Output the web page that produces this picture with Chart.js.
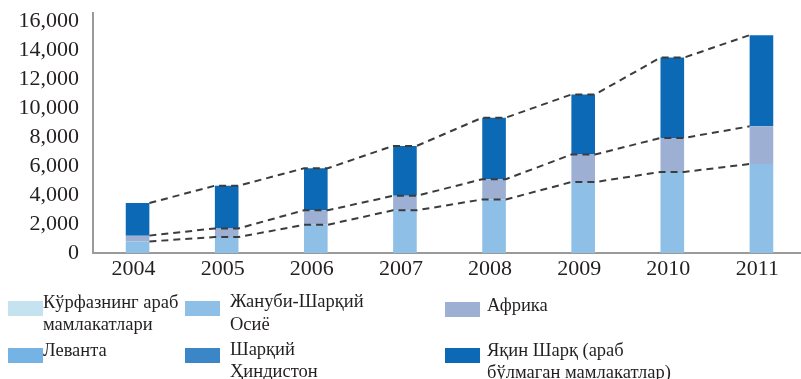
<!DOCTYPE html>
<html>
<head>
<meta charset="utf-8">
<script src="https://cdn.jsdelivr.net/npm/chart.js@4"></script>
<style>
html, body { margin: 0; padding: 0; background: #fff; overflow: hidden; }
body { width: 801px; height: 379px; position: relative; font-family: 'Liberation Serif', serif; color: #231f20; }
#wrap { position: absolute; left: 0; top: 0; width: 806px; height: 285px; }
#legend { position: absolute; left: 0; top: 0; width: 801px; height: 379px; }
.swatch { position: absolute; width: 35px; height: 15px; }
.label { position: absolute; font-size: 18.5px; line-height: 22.5px; white-space: pre; }
</style>
</head>
<body>
<div id="wrap"><canvas id="chart" width="806" height="285"></canvas></div>
<div id="legend"></div>
<script>
// Years on the x axis
const years = ['2004', '2005', '2006', '2007', '2008', '2009', '2010', '2011'];

// Series, bottom to top of each stack
const gulfArab  = [0, 0, 0, 0, 0, 0, 0, 0];
const seAsia    = [800, 1100, 1950, 2950, 3700, 4900, 5600, 6150];
const africa    = [400, 600, 1000, 1000, 1400, 1900, 2350, 2600];
const levant    = [0, 0, 0, 0, 0, 0, 0, 0];
const eastIndia = [0, 0, 0, 0, 0, 0, 0, 0];
const nearEast  = [2250, 2950, 2900, 3450, 4250, 4150, 5550, 6300];

const seriesNames = [
    'Кўрфазнинг араб\nмамлакатлари',
    'Жануби-Шарқий\nОсиё',
    'Африка',
    'Леванта',
    'Шарқий\nҲиндистон',
    'Яқин Шарқ (араб\nбўлмаган мамлакатлар)'
];
const seriesColors = ['#c5e2f1', '#8ec0e7', '#9db0d3', '#74b3e3', '#3a86c7', '#0b69b5'];

// y axis ticks; the axis line runs a little above the top one
const yTicks = [0, 2000, 4000, 6000, 8000, 10000, 12000, 14000, 16000];
const yAxisMax = 16600;

// stacks whose tops get joined by dashed series lines
const lineLevels = [1, 2, 5];

const seriesLines = {
    id: 'seriesLines',
    afterDatasetsDraw(chart) {
        const ctx = chart.ctx;
        ctx.save();
        ctx.strokeStyle = '#3c3c3c';
        ctx.lineWidth = 2;
        ctx.setLineDash([7, 5]);
        lineLevels.forEach(idx => {
            const bars = chart.getDatasetMeta(idx).data;
            ctx.beginPath();
            bars.forEach((bar, i) => {
                const half = bar.width / 2;
                if (i === 0) {
                    ctx.moveTo(bar.x + half, bar.y);
                } else {
                    ctx.lineTo(bar.x - half, bar.y);
                    if (i < bars.length - 1) ctx.lineTo(bar.x + half, bar.y);
                }
            });
            ctx.stroke();
        });
        ctx.restore();
    }
};

const values = [gulfArab, seAsia, africa, levant, eastIndia, nearEast];

const chart = new Chart(document.getElementById('chart').getContext('2d'), {
    type: 'bar',
    data: {
        labels: years,
        datasets: values.map((data, i) => ({
            label: seriesNames[i],
            data: data,
            backgroundColor: seriesColors[i],
            borderWidth: 0,
            categoryPercentage: 1,
            barPercentage: 0.265
        }))
    },
    options: {
        responsive: false,
        animation: false,
        layout: { padding: { top: 12.7, left: 0, right: 0, bottom: 0 } },
        plugins: {
            legend: { display: false },
            tooltip: { enabled: false }
        },
        scales: {
            x: {
                stacked: true,
                offset: true,
                grid: { display: false, drawTicks: false },
                border: { color: '#9a9a9a', width: 2 },
                ticks: {
                    color: '#231f20',
                    font: { family: 'Liberation Serif', size: 22 },
                    padding: 3,
                    labelOffset: -4,
                    maxRotation: 0
                },
                afterFit(scale) { scale.height = 32; }
            },
            y: {
                stacked: true,
                min: 0,
                max: yAxisMax,
                grid: { display: false, drawTicks: false },
                border: { color: '#9a9a9a', width: 2 },
                ticks: {
                    autoSkip: false,
                    color: '#231f20',
                    font: { family: 'Liberation Serif', size: 22 },
                    padding: 14,
                    callback: v => v.toLocaleString('en-US')
                },
                afterBuildTicks(scale) {
                    scale.ticks = yTicks.map(v => ({ value: v }));
                },
                afterFit(scale) {
                    scale.width = 93;
                    scale.paddingTop = 0;
                    scale.paddingBottom = 0;
                }
            }
        }
    },
    plugins: [seriesLines]
});

// Legend laid out in two rows of three
const slots = [
    { sx: 8,   sy: 301, tx: 43,  ty: 290.5 },
    { sx: 185, sy: 301, tx: 230, ty: 290 },
    { sx: 445, sy: 302, tx: 487, ty: 294 },
    { sx: 8,   sy: 348, tx: 43,  ty: 339 },
    { sx: 185, sy: 348, tx: 230, ty: 337.5 },
    { sx: 445, sy: 348, tx: 487, ty: 338.5 }
];
const legend = document.getElementById('legend');
chart.data.datasets.forEach((ds, i) => {
    const s = slots[i];
    const sw = document.createElement('div');
    sw.className = 'swatch';
    sw.style.left = s.sx + 'px';
    sw.style.top = s.sy + 'px';
    sw.style.background = ds.backgroundColor;
    legend.appendChild(sw);
    const tx = document.createElement('div');
    tx.className = 'label';
    tx.style.left = s.tx + 'px';
    tx.style.top = s.ty + 'px';
    tx.textContent = ds.label;
    legend.appendChild(tx);
});
</script>
</body>
</html>
